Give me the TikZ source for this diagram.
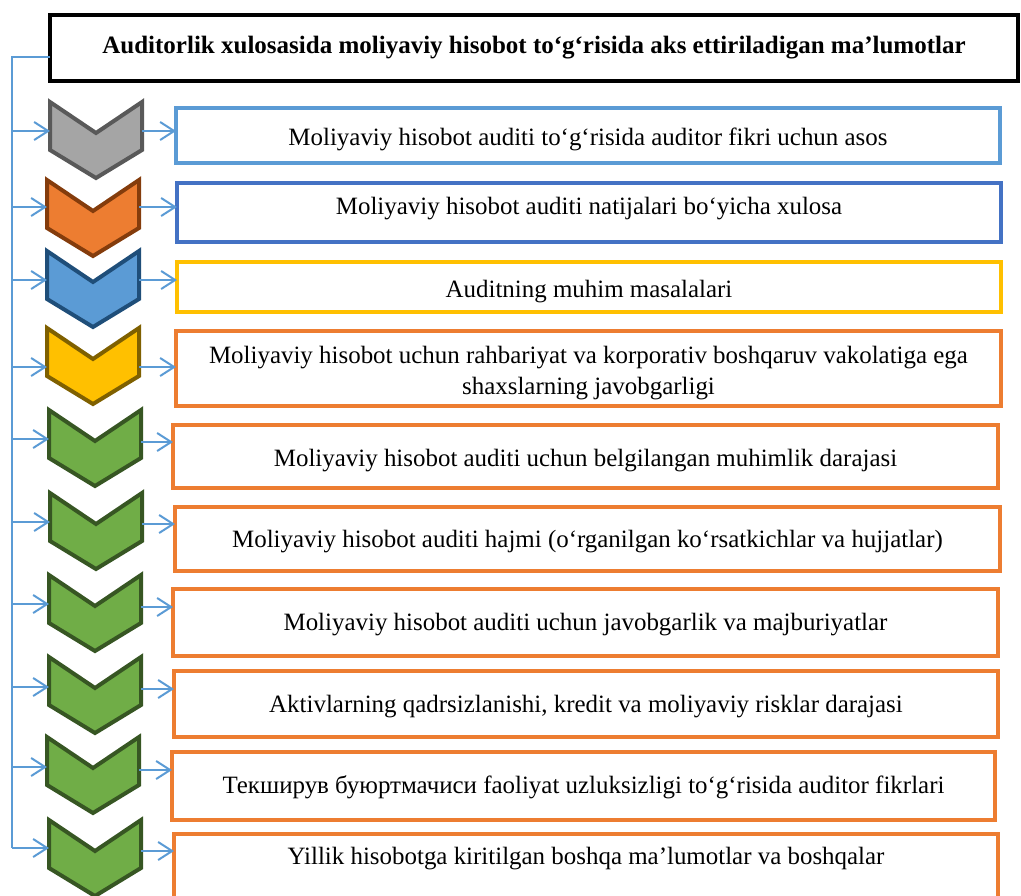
\documentclass[tikz,border=0pt]{standalone}
\usepackage{fontspec}
\setmainfont{Liberation Serif}
\usetikzlibrary{arrows.meta,calc}
\definecolor{connblue}{HTML}{5B9BD5}
\definecolor{chgrayF}{HTML}{A5A5A5}\definecolor{chgrayD}{HTML}{595959}
\definecolor{chorF}{HTML}{ED7D31}\definecolor{chorD}{HTML}{843C0C}
\definecolor{chblF}{HTML}{5B9BD5}\definecolor{chblD}{HTML}{1F4E79}
\definecolor{chyeF}{HTML}{FFC000}\definecolor{chyeD}{HTML}{7F6000}
\definecolor{chgrF}{HTML}{70AD47}\definecolor{chgrD}{HTML}{375623}
\definecolor{bxA}{HTML}{5B9BD5}\definecolor{bxB}{HTML}{4472C4}
\definecolor{bxC}{HTML}{FFC000}\definecolor{bxD}{HTML}{ED7D31}
\tikzset{
  chevbox/.style={draw=none, inner sep=0pt, outer sep=0pt, anchor=north west, minimum width=69pt, minimum height=57pt},
  chevshape/.style 2 args={fill=#1, draw=#2, line width=3pt, line join=miter, miter limit=10},
  conn/.style={draw=connblue, line width=1.5pt, -{Straight Barb[length=10.5pt,width=13.5pt]}},
  spine/.style={draw=connblue, line width=1.5pt},
  infobox/.style={draw=#1, line width=3pt, inner sep=0pt, outer sep=0pt, anchor=north west},
  boxtext/.style={font=\fontsize{18.7}{23.25}\selectfont, align=center, inner sep=0pt},
  titlebox/.style={draw=black, line width=3.2pt, inner sep=0pt, outer sep=0pt, anchor=north west, font=\bfseries\fontsize{18.75}{22}\selectfont},
}
\begin{document}
\begin{tikzpicture}[x=0.75pt,y=-0.75pt]
\useasboundingbox (0,0) rectangle (1021,896);
\clip (0,0) rectangle (1021,896);
\node[titlebox, minimum width={968*0.75pt}, minimum height={66*0.75pt}] (title) at (50,15) {Auditorlik xulosasida moliyaviy hisobot to‘g‘risida aks ettiriladigan ma’lumotlar};
\coordinate (top) at (12,57);
\coordinate (bot) at (12,848);
\draw[spine] (title.west |- top) -- (top) -- (bot);
\foreach \i/\cx/\ct/\fc/\dc/\ay/\oy/\bl/\bt/\bb/\br/\bc/\ty/\txt in {
1/48/100/chgrayF/chgrayD/131/131/174/106/165/1002/bxA/139/{Moliyaviy hisobot auditi to‘g‘risida auditor fikri uchun asos},
2/45/178/chorF/chorD/207/207/175/181/244/1003/bxB/209/{Moliyaviy hisobot auditi natijalari bo‘yicha xulosa},
3/45/249/chblF/chblD/280/280/175/260/314/1003/bxC/292/{Auditning muhim masalalari},
4/45/326/chyeF/chyeD/367/367/174/329/408/1003/bxD/373/{Moliyaviy hisobot uchun rahbariyat va korporativ boshqaruv vakolatiga ega\\shaxslarning javobgarligi},
5/47/408/chgrF/chgrD/439/442/171/423/490/1000/bxD/461/{Moliyaviy hisobot auditi uchun belgilangan muhimlik darajasi},
6/48/491/chgrF/chgrD/522/524/173/505/573/1002/bxD/542/{Moliyaviy hisobot auditi hajmi (o‘rganilgan ko‘rsatkichlar va hujjatlar)},
7/47/573/chgrF/chgrD/604/607/171/587/658/1000/bxD/625/{Moliyaviy hisobot auditi uchun javobgarlik va majburiyatlar},
8/47/655/chgrF/chgrD/687/689/172/669/739/1000/bxD/707/{Aktivlarning qadrsizlanishi, kredit va moliyaviy risklar darajasi},
9/45/735/chgrF/chgrD/767/770/170/750/822/997/bxD/787/{Текширув буюртмачиси faoliyat uzluksizligi to‘g‘risida auditor fikrlari},
10/47/818/chgrF/chgrD/848/851/172/832/910/1000/bxD/859/{Yillik hisobotga kiritilgan boshqa ma’lumotlar va boshqalar}}
{
  \node[chevbox] (c\i) at ({\cx+2},{\ct+2}) {};
  \draw[chevshape={\fc}{\dc}] (c\i.north west) -- ($(c\i.north)+(0,31)$) -- (c\i.north east) -- ($(c\i.south east)+(0,-28)$) -- (c\i.south) -- ($(c\i.south west)+(0,-28)$) -- cycle;
  \node[infobox=\bc, minimum width={(\br-\bl-4)*0.75pt}, minimum height={(\bb-\bt-4)*0.75pt}] (b\i) at ({\bl+2},{\bt+2}) {};
  \node[boxtext] (t\i) at ({(\bl+\br)/2},\ty) {\txt};
  \coordinate (s\i) at (12,\ay);
  \draw[conn] (s\i) -- (s\i -| c\i.west);
  \coordinate (o\i) at (0,\oy);
  \draw[conn] (o\i -| c\i.east) -- (o\i -| b\i.west);
}
\end{tikzpicture}
\end{document}
